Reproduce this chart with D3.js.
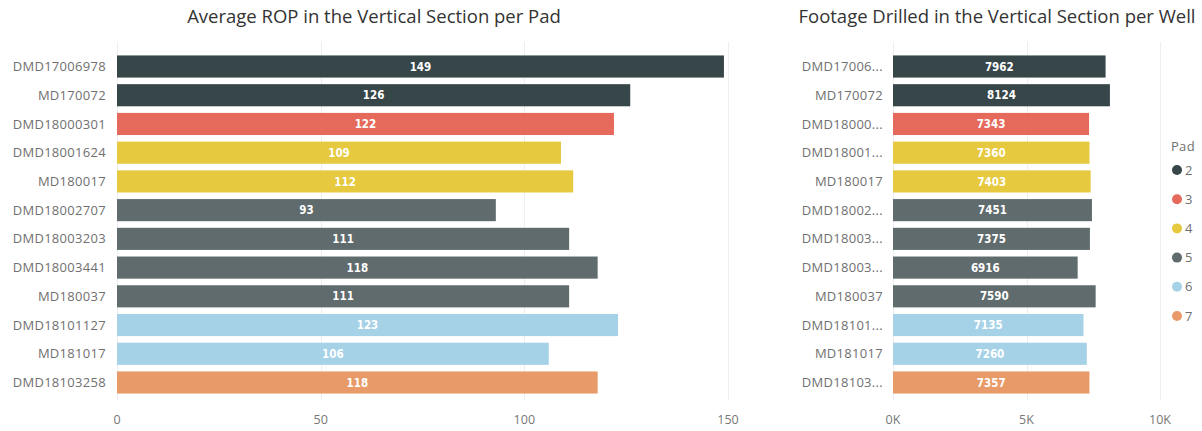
<!DOCTYPE html>
<meta charset="utf-8">
<style>
body {
  margin: 0;
  background: #fff;
  font-family: "Open Sans", "Segoe UI", sans-serif;
}
.title {
  fill: #333;
  font-size: 18.5px;
}
.cat {
  fill: #707070;
  font-size: 13px;
  letter-spacing: 0.3px;
}
.tick-label {
  fill: #777;
  font-size: 12.5px;
}
.grid {
  stroke: #eeeeee;
  stroke-width: 1px;
}
.val {
  fill: #fff;
  font-family: "DejaVu Sans Condensed", "Liberation Sans Narrow", sans-serif;
  font-weight: bold;
  font-size: 11.5px;
}
</style>
<body>
<svg width="1202" height="431" id="chart"></svg>

<script src="https://cdnjs.cloudflare.com/ajax/libs/d3/7.8.5/d3.min.js"></script>
<script>

var wells = ["DMD17006978", "MD170072", "DMD18000301", "DMD18001624", "MD180017", "DMD18002707",
             "DMD18003203", "DMD18003441", "MD180037", "DMD18101127", "MD181017", "DMD18103258"];
var pads = ["2", "2", "3", "4", "4", "5", "5", "5", "5", "6", "6", "7"];
var rop = [149, 126, 122, 109, 112, 93, 111, 118, 111, 123, 106, 118];
var footage = [7962, 8124, 7343, 7360, 7403, 7451, 7375, 6916, 7590, 7135, 7260, 7357];

var padKeys = ["2", "3", "4", "5", "6", "7"];
var padColors = ["#374649", "#e56a5b", "#e6c93f", "#5f6b6d", "#a6d2e8", "#e89b68"];
var ropTicks = [0, 50, 100, 150];
var footTicks = [0, 5000, 10000];

var color = d3.scaleOrdinal().domain(padKeys).range(padColors);

var svg = d3.select("#chart");

var y = d3.scaleBand()
    .domain(wells)
    .range([52, 397])
    .paddingInner(0.23)
    .paddingOuter(0.12);

function drawPanel(opts) {
  var g = svg.append("g");
  var x = opts.x;

  g.selectAll(".grid")
    .data(opts.ticks)
    .enter().append("line")
      .attr("class", "grid")
      .attr("x1", function(d) { return Math.round(x(d)) + 0.5; })
      .attr("x2", function(d) { return Math.round(x(d)) + 0.5; })
      .attr("y1", 42)
      .attr("y2", 400);

  g.selectAll(".tick-label")
    .data(opts.ticks)
    .enter().append("text")
      .attr("class", "tick-label")
      .attr("x", function(d) { return x(d); })
      .attr("y", 424)
      .attr("text-anchor", "middle")
      .text(opts.tickFormat);

  g.selectAll(".bar")
    .data(wells)
    .enter().append("rect")
      .attr("class", "bar")
      .attr("x", x(0))
      .attr("y", function(d) { return y(d); })
      .attr("width", function(d, i) { return x(opts.values[i]) - x(0); })
      .attr("height", y.bandwidth())
      .attr("fill", function(d, i) { return color(pads[i]); });

  g.selectAll(".val")
    .data(wells)
    .enter().append("text")
      .attr("class", "val")
      .attr("x", function(d, i) { return (x(0) + x(opts.values[i])) / 2; })
      .attr("y", function(d) { return y(d) + y.bandwidth() / 2; })
      .attr("dy", "0.36em")
      .attr("text-anchor", "middle")
      .text(function(d, i) { return opts.values[i]; });

  g.selectAll(".cat")
    .data(wells)
    .enter().append("text")
      .attr("class", "cat")
      .attr("x", opts.labelX)
      .attr("y", function(d) { return y(d) + y.bandwidth() / 2; })
      .attr("dy", "0.35em")
      .attr("text-anchor", "end")
      .text(opts.labelFormat);

  g.append("text")
    .attr("class", "title")
    .attr("x", opts.titleX)
    .attr("y", 23)
    .attr("text-anchor", "middle")
    .text(opts.title);
}

drawPanel({
  x: d3.scaleLinear().domain([0, 150]).range([117, 728]),
  ticks: ropTicks,
  tickFormat: function(d) { return d; },
  values: rop,
  labelX: 106,
  labelFormat: function(d) { return d; },
  title: "Average ROP in the Vertical Section per Pad",
  titleX: 374
});

drawPanel({
  x: d3.scaleLinear().domain([0, 10000]).range([893, 1160]),
  ticks: footTicks,
  tickFormat: function(d) { return (d / 1000) + "K"; },
  values: footage,
  labelX: 883,
  labelFormat: function(d) { return d.length > 8 ? d.slice(0, 8) + "..." : d; },
  title: "Footage Drilled in the Vertical Section per Well",
  titleX: 997
});

// legend
var legend = svg.append("g");
legend.append("text")
  .attr("class", "cat")
  .attr("x", 1171)
  .attr("y", 151)
  .text("Pad");

var ly = d3.scalePoint().domain(padKeys).range([170, 316]);

legend.selectAll("circle")
  .data(padKeys)
  .enter().append("circle")
    .attr("cx", 1177)
    .attr("cy", function(d) { return ly(d); })
    .attr("r", 5)
    .attr("fill", function(d) { return color(d); });

legend.selectAll(".lg")
  .data(padKeys)
  .enter().append("text")
    .attr("class", "cat lg")
    .attr("x", 1185)
    .attr("y", function(d) { return ly(d); })
    .attr("dy", "0.35em")
    .text(function(d) { return d; });

</script>
</body>
